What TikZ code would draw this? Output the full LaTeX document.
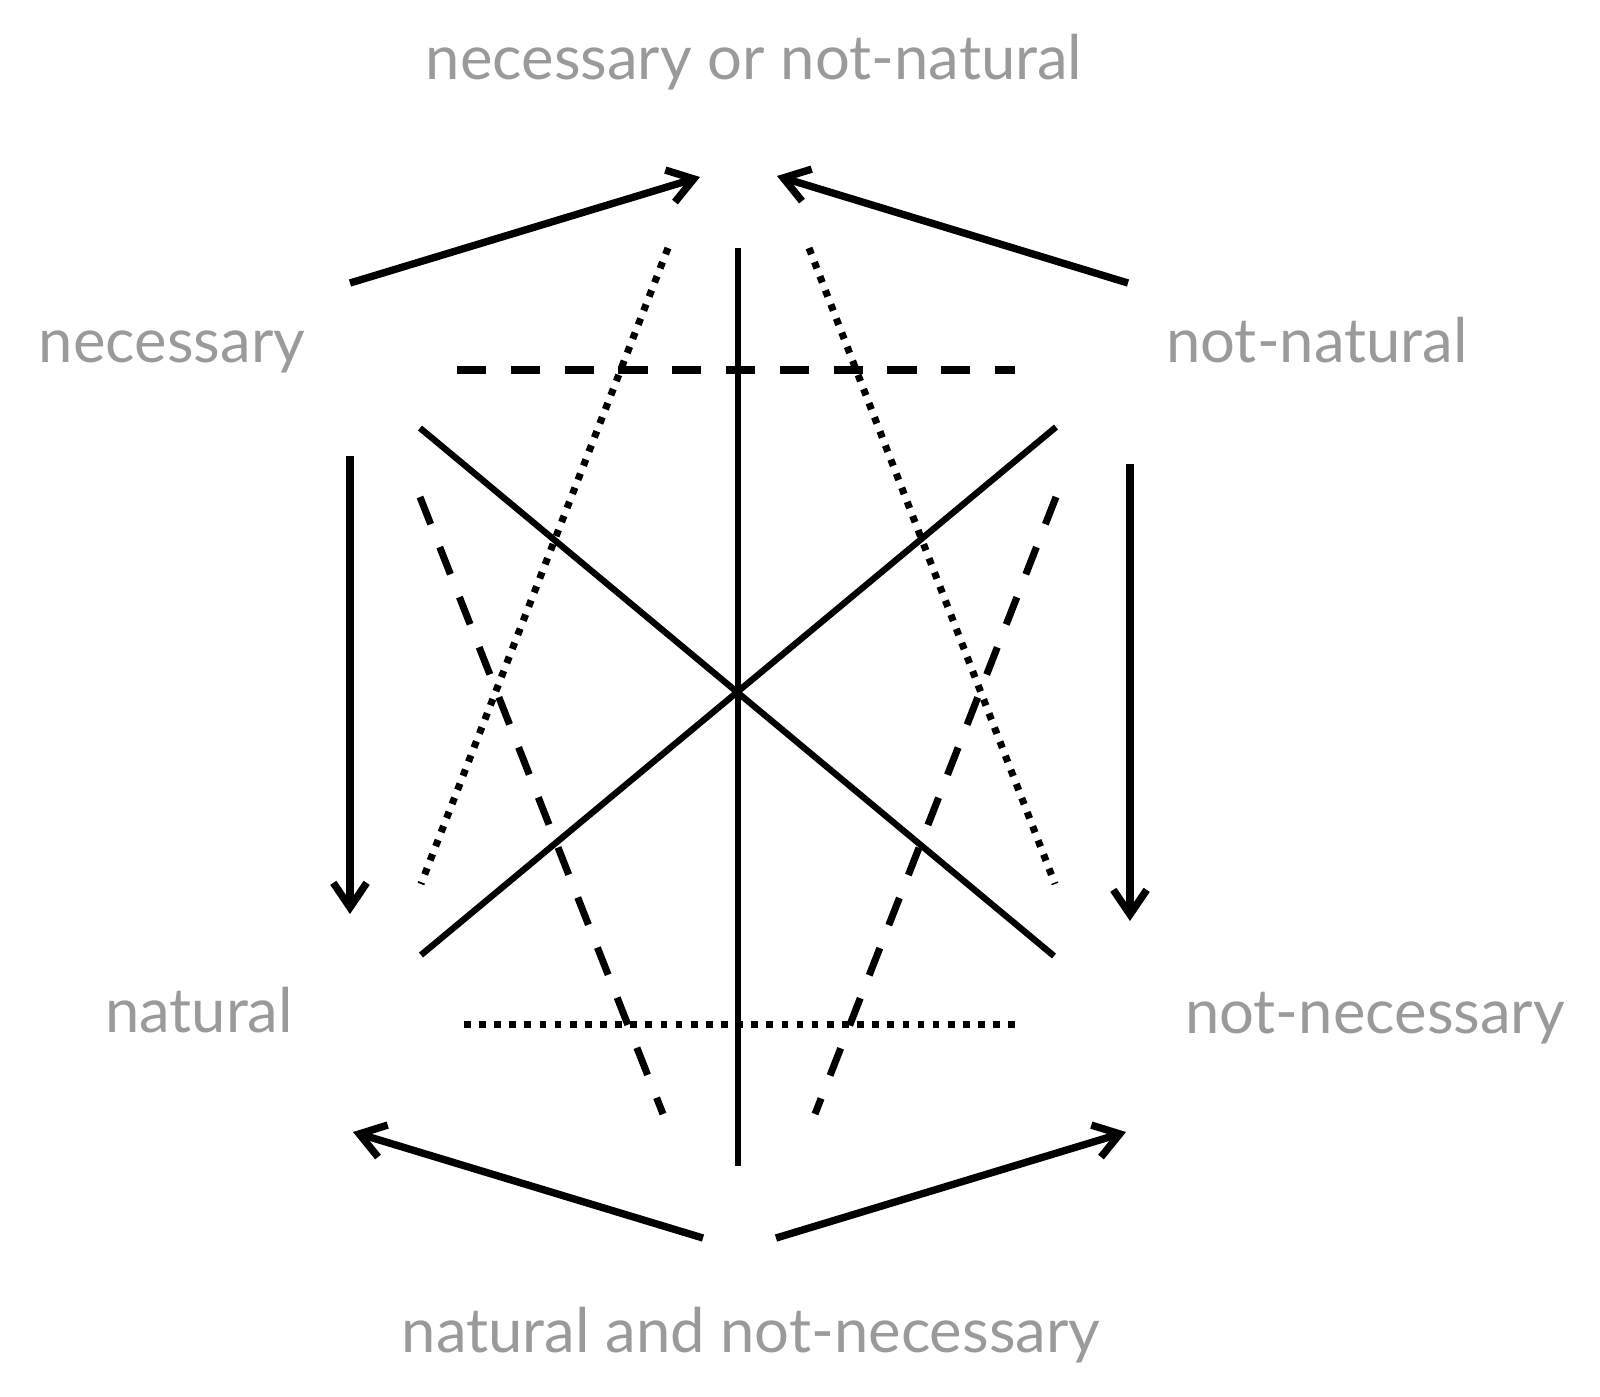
\documentclass[tikz,border=0pt]{standalone}
\usepackage{fontspec}
\setmainfont{Lato}
\usetikzlibrary{arrows.meta}
\definecolor{termgray}{HTML}{9A9A9A}
\tikzset{
  term/.style={
    text=termgray,
    font=\fontsize{17.5}{21}\selectfont,
    inner sep=0pt,
    anchor=base
  },
  solidedge/.style={line width=1.8pt},
  dashedge/.style={line width=2pt, dash pattern=on 8.3pt off 7pt},
  dotedge/.style={line width=2pt, dash pattern=on 1.9pt off 2.4pt},
  implies/.style={
    line width=2.1pt,
    -{Straight Barb[length=7pt, width=9.5pt]}
  }
}

\begin{document}
\begin{tikzpicture}[x=0.01cm, y=-0.01cm]
  \useasboundingbox (0,0) rectangle (1600,1396);

  % Begriffe
  \node[term] (top) at (754,79) {necessary or not-natural};
  \node[term] (nec) at (172,362) {necessary};
  \node[term] (notnat) at (1317,362) {not-natural};
  \node[term] (nat) at (199,1032) {natural};
  \node[term] (notnec) at (1375,1033) {not-necessary};
  \node[term] (bottom) at (751,1352) {natural and not-necessary};

  % Endpunkte der Pfeile
  \coordinate (necR) at (350,283);
  \coordinate (topL) at (700,177);
  \coordinate (notnatL) at (1128,283);
  \coordinate (topR) at (777,176);
  \coordinate (necD) at (350,456);
  \coordinate (natU) at (350,914);
  \coordinate (notnatD) at (1130,464);
  \coordinate (notnecU) at (1130,921);
  \coordinate (bottomL) at (703,1238);
  \coordinate (natR) at (353,1132);
  \coordinate (bottomR) at (776,1238);
  \coordinate (notnecL) at (1126,1132);

  % Endpunkte der Figur
  \coordinate (c) at (738,692);
  \coordinate (vT) at (738,248);
  \coordinate (vB) at (738,1166);
  \coordinate (sTL) at (420,428);
  \coordinate (sBR) at (1054,956);
  \coordinate (sTR) at (1056,427);
  \coordinate (sBL) at (421,955);
  \coordinate (hTL) at (457,370);
  \coordinate (hTR) at (1015,370);
  \coordinate (hBL) at (464,1024);
  \coordinate (hBR) at (1015,1024);
  \coordinate (dtL) at (668,248);
  \coordinate (dbL) at (421,884);
  \coordinate (dtR) at (809,248);
  \coordinate (dbR) at (1055,884);
  \coordinate (ktL) at (420,497);
  \coordinate (kbL) at (663,1114);
  \coordinate (ktR) at (1056,497);
  \coordinate (kbR) at (815,1114);

  % Pfeile
  \draw[implies] (necR) -- (topL);
  \draw[implies] (notnatL) -- (topR);
  \draw[implies] (necD) -- (natU);
  \draw[implies] (notnatD) -- (notnecU);
  \draw[implies] (bottomL) -- (natR);
  \draw[implies] (bottomR) -- (notnecL);

  % Figur
  \draw[solidedge] (vT) -- (vB);
  \draw[solidedge] (sTL) -- (sBR);
  \draw[solidedge] (sTR) -- (sBL);
  \draw[dashedge] (hTL) -- (hTR);
  \draw[dotedge] (hBL) -- (hBR);
  \draw[dotedge] (dtL) -- (dbL);
  \draw[dotedge] (dtR) -- (dbR);
  \draw[dashedge] (ktL) -- (kbL);
  \draw[dashedge] (ktR) -- (kbR);
\end{tikzpicture}
\end{document}
